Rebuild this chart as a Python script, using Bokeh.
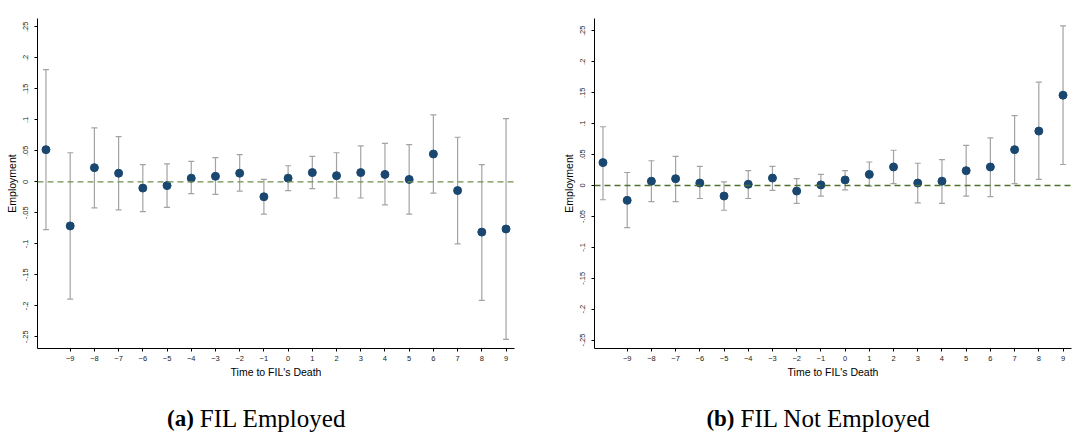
from bokeh.plotting import figure
from bokeh.layouts import row, column
from bokeh.models import Range1d, FixedTicker, Span
from bokeh.core.properties import value
from bokeh.embed import file_html
from bokeh.resources import INLINE

# ---- data ----
time = list(range(-10, 10))
x_ticks = list(range(-9, 10))
y_ticks = [-0.25, -0.2, -0.15, -0.1, -0.05, 0.0, 0.05, 0.1, 0.15, 0.2, 0.25]
y_tick_labels = ["-.25", "-.2", "-.15", "-.1", "-.05", "0", ".05", ".1", ".15", ".2", ".25"]

coef_a = [0.052, -0.071, 0.023, 0.014, -0.010, -0.006, 0.006, 0.009, 0.014, -0.024,
          0.006, 0.015, 0.010, 0.015, 0.012, 0.004, 0.045, -0.014, -0.081, -0.076]
hi_a = [0.181, 0.047, 0.087, 0.073, 0.028, 0.029, 0.033, 0.039, 0.044, 0.004,
        0.026, 0.041, 0.047, 0.058, 0.062, 0.060, 0.108, 0.072, 0.028, 0.102]
lo_a = [-0.077, -0.189, -0.042, -0.045, -0.048, -0.041, -0.019, -0.020, -0.015, -0.052,
        -0.014, -0.011, -0.026, -0.026, -0.037, -0.052, -0.018, -0.100, -0.191, -0.254]

coef_b = [0.037, -0.024, 0.007, 0.011, 0.004, -0.017, 0.002, 0.012, -0.009, 0.001,
          0.009, 0.018, 0.030, 0.004, 0.007, 0.024, 0.030, 0.058, 0.088, 0.146]
hi_b = [0.095, 0.021, 0.040, 0.047, 0.031, 0.006, 0.024, 0.031, 0.011, 0.018,
        0.024, 0.038, 0.057, 0.036, 0.042, 0.065, 0.077, 0.113, 0.167, 0.258]
lo_b = [-0.023, -0.068, -0.026, -0.026, -0.021, -0.040, -0.021, -0.008, -0.029, -0.017,
        -0.007, -0.001, 0.003, -0.028, -0.029, -0.017, -0.018, 0.003, 0.010, 0.034]

tags = ["(a)", "(b)"]
captions = ["FIL Employed", "FIL Not Employed"]

FONT = "Liberation Sans"
SERIF = "Liberation Serif"
NAVY = "#1a476f"
BAR = "#a3a3a3"
CAP_W = 1086
CAP_H = 43


def panel(coef, lo, hi, yr, border_right, zero_color):
    p = figure(frame_width=477, frame_height=330,
               x_range=Range1d(-10.35, 9.35), y_range=Range1d(*yr),
               output_backend="svg", toolbar_location=None,
               min_border_left=37, min_border_right=border_right,
               min_border_top=18, min_border_bottom=45)
    p.outline_line_color = None
    p.grid.visible = False
    p.background_fill_color = "white"
    p.border_fill_color = "white"

    for ax in (p.xaxis[0], p.yaxis[0]):
        ax.axis_line_color = "black"
        ax.axis_line_width = 1
        ax.major_tick_line_color = "black"
        ax.major_tick_out = 3
        ax.major_tick_in = 0
        ax.minor_tick_line_color = None
        ax.major_label_text_font = FONT
        ax.major_label_text_font_size = "7.5px"
        ax.major_label_text_color = "#222222"
        ax.axis_label_text_font = FONT
        ax.axis_label_text_font_size = "10.5px"
        ax.axis_label_text_font_style = "normal"
        ax.axis_label_text_color = "black"

    p.xaxis.ticker = FixedTicker(ticks=x_ticks)
    p.xaxis.axis_label = "Time to FIL's Death"
    p.xaxis.major_label_standoff = 4
    p.xaxis.axis_label_standoff = 2

    p.yaxis.ticker = FixedTicker(ticks=y_ticks)
    p.yaxis.major_label_overrides = {v: s for v, s in zip(y_ticks, y_tick_labels)}
    p.yaxis.major_label_orientation = "vertical"
    p.yaxis.axis_label = "Employment"
    p.yaxis.major_label_standoff = 6
    p.yaxis.axis_label_standoff = 3

    p.add_layout(Span(location=0, dimension="width", line_color=zero_color,
                      line_width=1.4, line_dash="6 4"))

    p.segment(x0=time, y0=lo, x1=time, y1=hi, line_color=BAR, line_width=1.2)
    p.scatter(x=time, y=hi, marker="dash", size=6, line_color=BAR, line_width=1.2)
    p.scatter(x=time, y=lo, marker="dash", size=6, line_color=BAR, line_width=1.2)
    p.scatter(x=time, y=coef, marker="circle", size=8, fill_color=NAVY, line_color=NAVY)
    return p


pa = panel(coef_a, lo_a, hi_a, (-0.2687, 0.2635), 43, "#6f8f4f")
pb = panel(coef_b, lo_b, hi_b, (-0.2635, 0.2700), 15, "#50702f")

# caption strip spanning the full width (x in page pixels)
cap = figure(width=CAP_W, height=CAP_H, x_range=Range1d(0, CAP_W), y_range=Range1d(0, CAP_H),
             output_backend="svg", toolbar_location=None, min_border=0,
             x_axis_location=None, y_axis_location=None)
cap.grid.visible = False
cap.outline_line_color = None
cap.title.visible = False
cap_x = [199.3, 740.0]
cap_y = [18.5, 18.5]
cap.text(x=[v - 6 for v in cap_x], y=cap_y, text=tags, text_font=value(SERIF),
         text_font_size="23px", text_font_style="bold", text_align="right",
         text_baseline="alphabetic", text_color="black")
cap.text(x=cap_x, y=cap_y, text=captions, text_font=value(SERIF),
         text_font_size="25px", text_align="left", text_baseline="alphabetic",
         text_color="black")

layout = column(row(pa, pb), cap)
open("out.html", "w").write(file_html(layout, INLINE))
